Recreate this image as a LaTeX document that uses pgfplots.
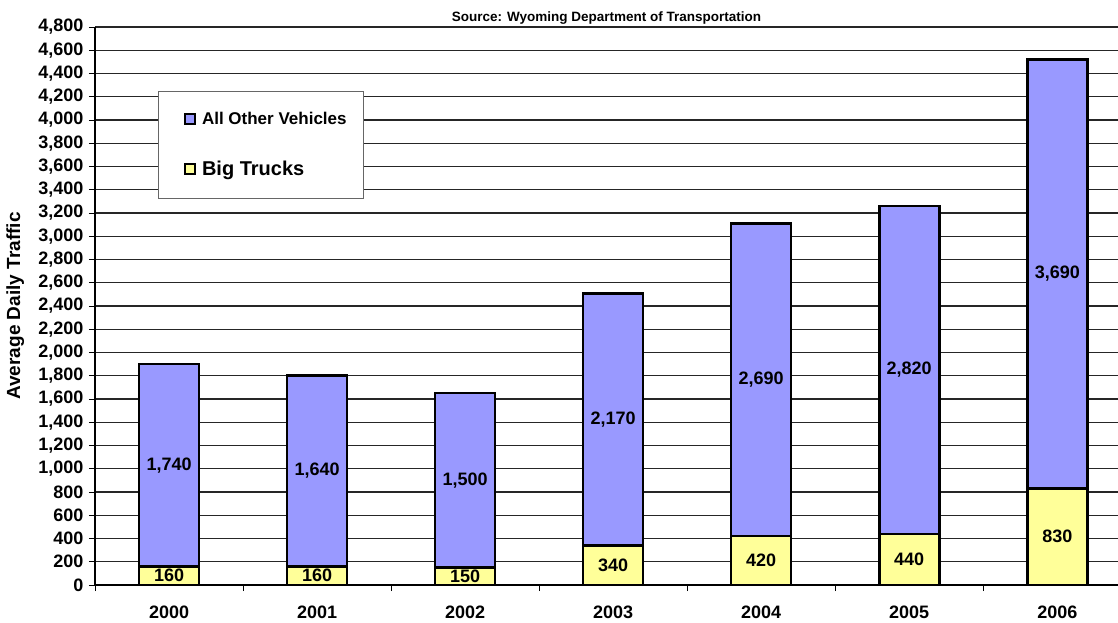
\documentclass[border=0pt]{standalone}
\usepackage{pgfplots}
\usepackage{pgfplotstable}
\pgfplotsset{compat=1.18}
\usepackage{fontspec}
\setmainfont{Liberation Sans}
\definecolor{others}{HTML}{9999FF}
\definecolor{trucks}{HTML}{FFFF99}
\pgfplotstableread{
x trucks others
0 160 1740
1 160 1640
2 150 1500
3 340 2170
4 420 2690
5 440 2820
6 830 3690
}\bars
\pgfplotstableread{
x y lab
0 80 160
1 80 160
2 75 150
3 170 340
4 210 420
5 220 440
6 415 830
0 1030 1,740
1 980 1,640
2 900 1,500
3 1425 2,170
4 1765 2,690
5 1850 2,820
6 2675 3,690
}\labs
\begin{document}
\begin{tikzpicture}
\path[use as bounding box] (0,0) rectangle (1118pt,622pt);
\pgfplotsset{
  common/.style={
    at={(95pt,37pt)}, anchor=south west,
    scale only axis, width=1023pt, height=558pt,
    xmin=-0.5, xmax=6.41, ymin=0, ymax=4800,
  },
  sq legend/.style={legend image code/.code={\draw[##1, line width=1.8pt] (10pt,-5pt) rectangle (20pt,5pt); \path (0pt,0pt) (24pt,0pt);}},
}
\begin{axis}[
  common,
  ybar stacked, bar width=60pt,
  axis x line*=bottom, axis y line*=left,
  axis line style={-, black, line width=1.2pt},
  ymajorgrids, grid style={black!85, line width=1.1pt},
  ytick distance=200,
  tick align=outside, major tick length=6pt,
  ytick style={black, line width=1pt},
  xtick={0,...,6},
  xticklabels={2000,2001,2002,2003,2004,2005,2006},
  xtick style={draw=none},
  extra x ticks={-0.5,0.5,1.5,2.5,3.5,4.5,5.5},
  extra x tick labels={},
  extra x tick style={xtick style={draw=black, line width=1pt}},
  /pgf/number format/assume math mode=true,
  /pgf/number format/1000 sep={,},
  yticklabel style={font=\bfseries\fontsize{18}{20}\selectfont, xshift=-2pt},
  xticklabel style={font=\bfseries\fontsize{18}{20}\selectfont, yshift=-11pt},
  ylabel={Average Daily Traffic},
  ylabel style={font=\bfseries\fontsize{19}{21}\selectfont, at={(axis description cs:-0.078,0.5)}, anchor=center},
  title={Source: Wyoming Department of Transportation},
  title style={font=\bfseries\fontsize{13.5}{15}\selectfont, at={(axis description cs:0.5,1)}, anchor=center, yshift=3pt},
  reverse legend,
  legend cell align=left,
  legend style={at={(axis description cs:0.0616,0.8853)}, anchor=north west,
    draw=black!60, line width=0.8pt, fill=white,
    inner xsep=15pt, inner ysep=19pt, row sep=31pt,
    font=\bfseries},
]
\addplot[fill=trucks, draw=black, line width=2.6pt, sq legend] table[x=x, y=trucks] {\bars};
\addlegendentry{\fontsize{20}{22}\selectfont Big Trucks}
\addplot[fill=others, draw=black, line width=2.6pt, sq legend] table[x=x, y=others] {\bars};
\addlegendentry{\fontsize{17}{19}\selectfont All Other Vehicles}
\end{axis}
\begin{axis}[
  common, hide axis,
]
\addplot[draw=none, nodes near coords, point meta=explicit symbolic,
  every node near coord/.append style={anchor=center, font=\bfseries\fontsize{18}{20}\selectfont}]
  table[x=x, y=y, meta=lab] {\labs};
\end{axis}
\end{tikzpicture}
\end{document}
